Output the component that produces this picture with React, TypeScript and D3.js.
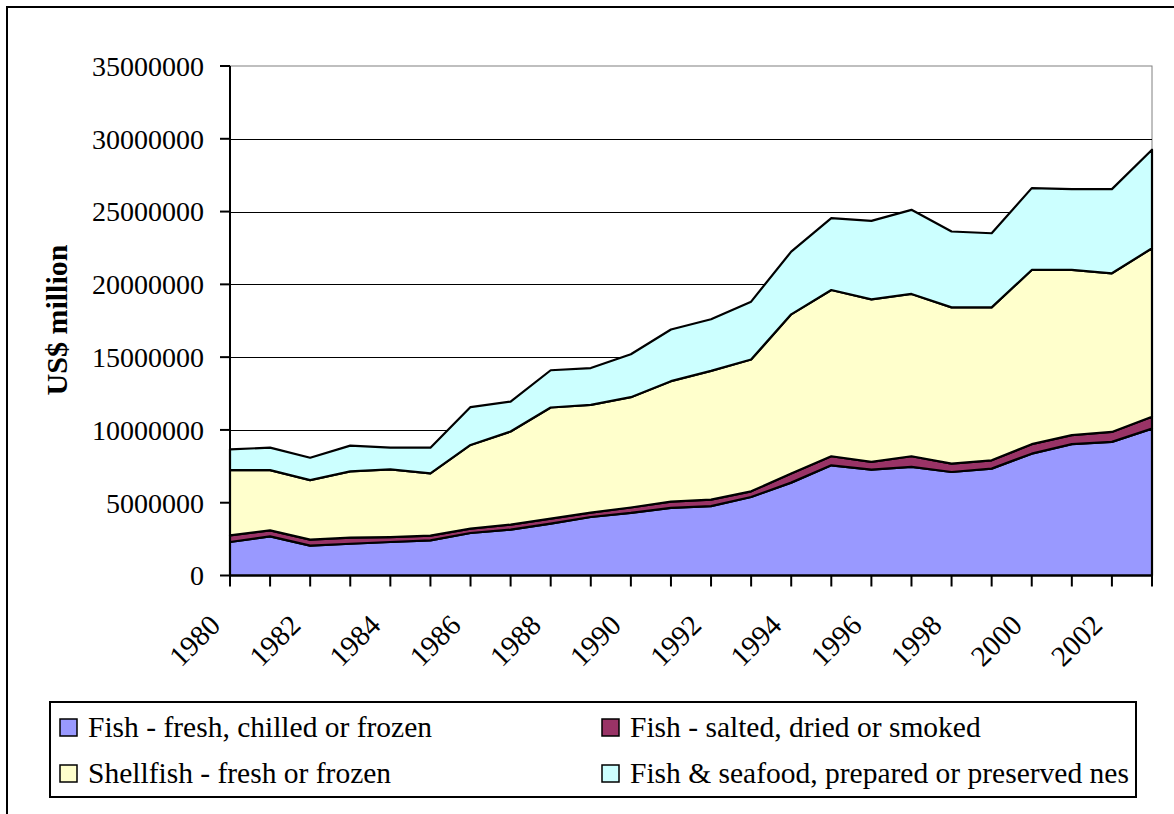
import React from "react";
import * as d3 from "d3";

const years = [1980, 1981, 1982, 1983, 1984, 1985, 1986, 1987, 1988, 1989, 1990, 1991, 1992, 1993, 1994, 1995, 1996, 1997, 1998, 1999, 2000, 2001, 2002, 2003];
const fishFresh = [2300000, 2690000, 2050000, 2180000, 2300000, 2410000, 2920000, 3150000, 3560000, 4020000, 4300000, 4650000, 4770000, 5390000, 6380000, 7570000, 7270000, 7460000, 7110000, 7340000, 8370000, 9020000, 9180000, 10090000];
const fishSalted = [460000, 410000, 410000, 420000, 340000, 330000, 300000, 350000, 350000, 300000, 370000, 420000, 440000, 390000, 620000, 620000, 530000, 730000, 570000, 570000, 650000, 620000, 680000, 810000];
const shellfish = [4480000, 4140000, 4090000, 4550000, 4650000, 4270000, 5750000, 6390000, 7630000, 7400000, 7580000, 8280000, 8850000, 9060000, 10940000, 11420000, 11170000, 11150000, 10740000, 10510000, 11970000, 11350000, 10900000, 11580000];
const prepared = [1430000, 1540000, 1540000, 1770000, 1490000, 1770000, 2600000, 2060000, 2560000, 2530000, 2950000, 3550000, 3540000, 3970000, 4310000, 4940000, 5390000, 5780000, 5210000, 5090000, 5620000, 5550000, 5780000, 6770000];

const seriesKeys = ["fishFresh", "fishSalted", "shellfish", "prepared"];
const seriesNames = [
  "Fish - fresh, chilled or frozen",
  "Fish - salted, dried or smoked",
  "Shellfish - fresh or frozen",
  "Fish & seafood, prepared or preserved nes",
];
const seriesColors = ["#9999FF", "#993366", "#FFFFCC", "#CCFFFF"];
const yTicks = [0, 5000000, 10000000, 15000000, 20000000, 25000000, 30000000, 35000000];
const xLabelYears = [1980, 1982, 1984, 1986, 1988, 1990, 1992, 1994, 1996, 1998, 2000, 2002];
const yTitle = "US$ million";

const FONT = "'Liberation Serif', 'Times New Roman', serif";

export default function App() {
  const W = 1174;
  const H = 814;
  const left = 230, right = 1152, top = 66, bottom = 575.5;
  const x = d3.scaleLinear().domain([years[0], years[years.length - 1]]).range([left, right]);
  const y = d3.scaleLinear().domain([0, 35000000]).range([bottom, top]);

  const rows = years.map((yr, i) => ({
    year: yr,
    fishFresh: fishFresh[i],
    fishSalted: fishSalted[i],
    shellfish: shellfish[i],
    prepared: prepared[i],
  }));
  const stacked = d3.stack<any>().keys(seriesKeys)(rows);
  const area = d3
    .area<any>()
    .x((d: any) => x(d.data.year))
    .y0((d: any) => y(d[0]))
    .y1((d: any) => y(d[1]));

  const legendItems = [
    { i: 0, lx: 60, ly: 719 },
    { i: 1, lx: 602, ly: 719 },
    { i: 2, lx: 60, ly: 765 },
    { i: 3, lx: 602, ly: 765 },
  ];

  return (
    <svg
      width={W}
      height={H}
      style={{ position: "absolute", left: 0, top: 0, background: "#fff" }}
      fontFamily={FONT}
    >
      <rect x={0} y={0} width={W} height={H} fill="#fff" />
      {/* outer chart frame */}
      <rect x={7} y={7} width={W + 20} height={H + 20} fill="none" stroke="#000" strokeWidth={2} />

      {/* plot area border */}
      <rect x={left} y={top} width={right - left} height={bottom - top} fill="none" stroke="#808080" strokeWidth={1} />
      {/* gridlines */}
      {yTicks.slice(1, -1).map((t) => (
        <line key={t} x1={left} x2={right} y1={Math.round(y(t)) + 0.5} y2={Math.round(y(t)) + 0.5} stroke="#000" strokeWidth={1.2} />
      ))}

      {/* areas */}
      {stacked.map((s, i) => (
        <path
          key={s.key}
          d={area(s as any) || ""}
          fill={seriesColors[i]}
          stroke="#000"
          strokeWidth={2.2}
          strokeLinejoin="round"
        />
      ))}

      {/* axes */}
      <line x1={left} x2={left} y1={top} y2={bottom + 1} stroke="#000" strokeWidth={2} />
      <line x1={left - 1} x2={right + 1} y1={bottom} y2={bottom} stroke="#000" strokeWidth={2} />
      {yTicks.map((t) => (
        <g key={t}>
          <line x1={left - 10} x2={left} y1={y(t)} y2={y(t)} stroke="#000" strokeWidth={2} />
          <text x={204} y={y(t)} dy="0.35em" textAnchor="end" fontSize={28} fill="#000">
            {t}
          </text>
        </g>
      ))}
      {years.map((yr) => (
        <line key={yr} x1={x(yr)} x2={x(yr)} y1={bottom} y2={bottom + 11} stroke="#000" strokeWidth={2} />
      ))}
      {xLabelYears.map((yr) => (
        <text
          key={yr}
          transform={`translate(${x(yr) - 8},627) rotate(-45)`}
          textAnchor="end"
          fontSize={29}
          fill="#000"
        >
          {yr}
        </text>
      ))}

      {/* y title */}
      <text transform="translate(67,320) rotate(-90)" textAnchor="middle" fontSize={30} fontWeight="bold" fill="#000">
        {yTitle}
      </text>

      {/* legend */}
      <rect x={50} y={702} width={1086} height={95} fill="#fff" stroke="#000" strokeWidth={2} />
      {legendItems.map(({ i, lx, ly }) => (
        <g key={i}>
          <rect x={lx} y={ly} width={17} height={17} fill={seriesColors[i]} stroke="#000" strokeWidth={1.5} />
          <text x={lx + 28} y={ly + 18} fontSize={29.5} fill="#000">
            {seriesNames[i]}
          </text>
        </g>
      ))}
    </svg>
  );
}
